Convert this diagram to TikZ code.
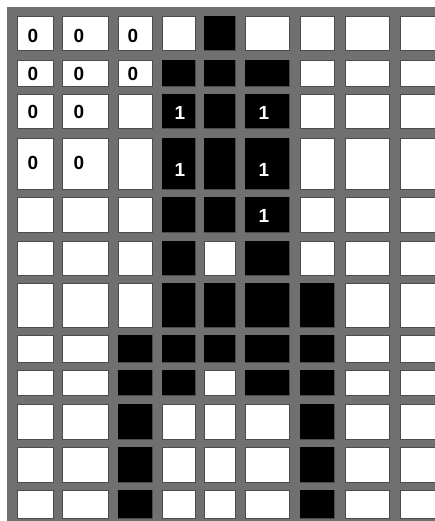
\documentclass[tikz,border=0pt]{standalone}
\usepackage{fontspec}
\setmainfont{Liberation Sans}
\usepackage{tikz}
\usetikzlibrary{positioning}
\definecolor{gridgray}{RGB}{112,112,112}
\tikzset{
  cell/.style={draw=black!70,line width=0.4pt,fill=white,inner sep=0pt,outer sep=0pt},
  zero/.style={font=\fontsize{19}{19}\selectfont\bfseries,text=black,inner sep=0pt},
  one/.style={font=\fontsize{19}{19}\selectfont\bfseries,text=white,inner sep=0pt}
}
\begin{document}
\begin{tikzpicture}[x=1pt,y=-1pt]
\useasboundingbox (0,0) rectangle (435,521);
\fill[white] (0,0) rectangle (435,521);
% grey lines behind the cells
\fill[gridgray] (7,7) rectangle (435,521);
% cells, column by column
\foreach \i/\xa/\xb in {1/17/53,2/62/108,3/118/152,4/162/195,5/204/235,
                        6/245/289,7/300/334,8/345/389,9/400/436}{
  \foreach \j/\ya/\yb in {1/16/50,2/60/86,3/94/128,4/138/189,5/197/232,6/241/275,
                          7/283/327,8/335/362,9/370/395,10/404/439,11/447/482,12/490/518}{
    \node[cell,minimum width={(\xb-\xa)*1pt},minimum height={(\yb-\ya)*1pt}]
      (c\i-\j) at ({(\xa+\xb)/2},{(\ya+\yb)/2}) {};
  }
}
\clip (0,0) rectangle (435,521);
% black cells
\foreach \i/\j in {5/1,4/2,5/2,6/2,4/3,5/3,6/3,4/4,5/4,6/4,4/5,5/5,6/5,4/6,6/6,
                   4/7,5/7,6/7,7/7,3/8,4/8,5/8,6/8,7/8,3/9,4/9,6/9,7/9,
                   3/10,7/10,3/11,7/11,3/12,7/12}{
  \fill[black] (c\i-\j.north west) rectangle (c\i-\j.south east);
}
% labels
\foreach \i/\j/\dx/\dy in {1/1/-2/3,2/1/-6/3,3/1/-2/3,1/2/-2/1,2/2/-6/1,3/2/-2/1,
                           1/3/-2/1,2/3/-6/1,1/4/-2/-1,2/4/-6/-1}{
  \node[zero] (z\i-\j) at ([shift={(\dx,\dy)}]c\i-\j) {0};
}
\foreach \i/\j/\dx/\dy in {4/3/1.5/2,6/3/-3/2,4/4/1.5/6,6/4/-3/6,6/5/-3/1}{
  \node[one] (o\i-\j) at ([shift={(\dx,\dy)}]c\i-\j) {1};
}
\end{tikzpicture}
\end{document}
